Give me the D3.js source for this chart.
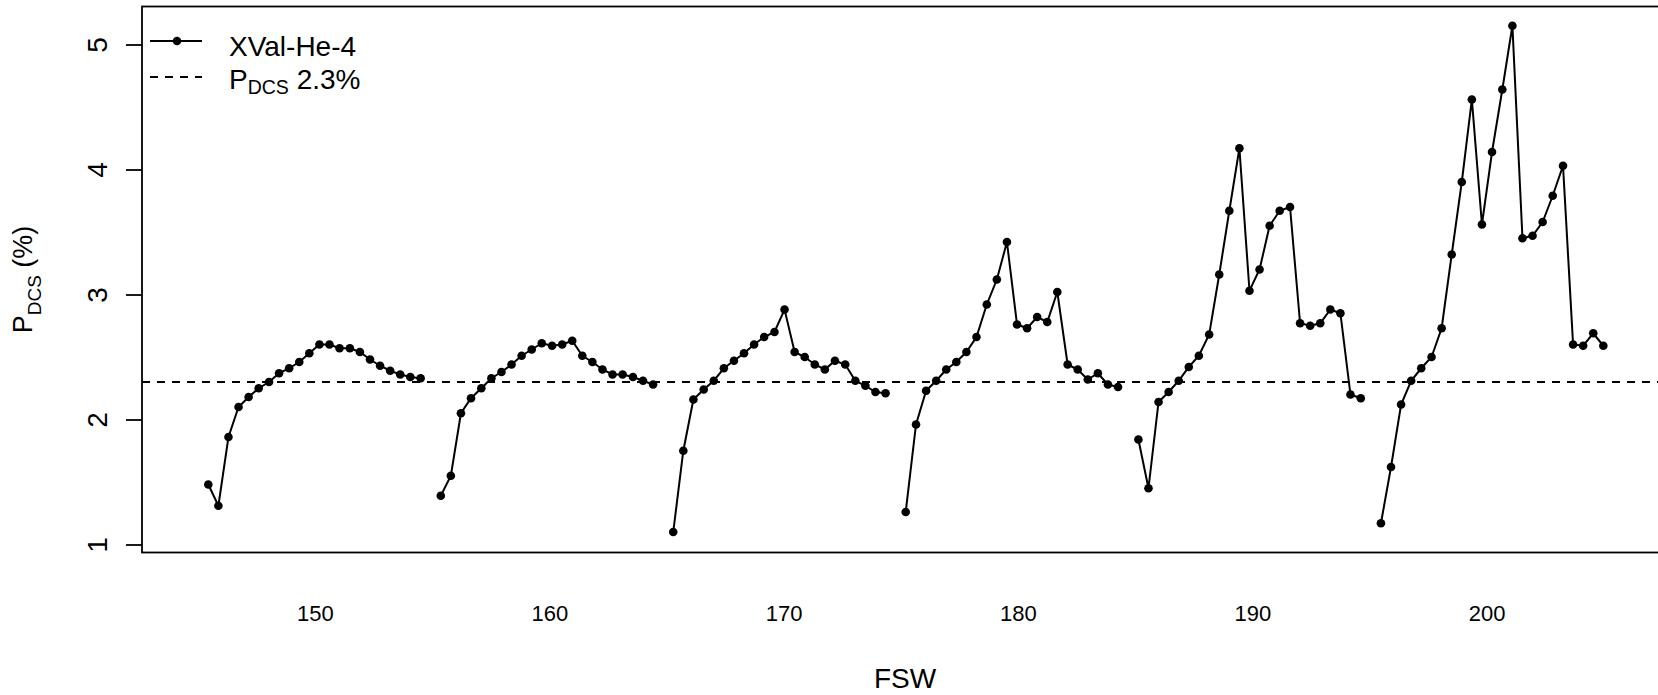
<!DOCTYPE html>
<html>
  <head>
    <meta charset="UTF-8">
    <title>XVal-He-4 PDCS vs FSW</title>
    <script src="https://cdnjs.cloudflare.com/ajax/libs/d3/7.8.5/d3.min.js"></script>
    <style type="text/css">
      body {
        margin: 0px;
        background: #fff;
        overflow: hidden;
      }
      text {
        font-family: "Liberation Sans", Arial, Helvetica, sans-serif;
        fill: #000;
      }
      .series {
        fill: none;
        stroke: #000;
        stroke-width: 2;
      }
      .ref-line {
        stroke: #000;
        stroke-width: 1.8;
        stroke-dasharray: 8,7;
      }
    </style>
  </head>
  <body>
    <div id="chart"></div>
    <script>
      // FSW values (x); null in pdcs marks the breaks between dive groups
      const fsw = [
        145.45, 145.88, 146.31, 146.74, 147.17, 147.60, 148.04, 148.47, 148.90, 149.33, 149.76,
        150.19, 150.62, 151.05, 151.49, 151.92, 152.35, 152.78, 153.21, 153.64, 154.07, 154.51,
        154.94,
        155.37, 155.80, 156.23, 156.66, 157.10, 157.53, 157.96, 158.39, 158.82, 159.25, 159.68,
        160.12, 160.55, 160.98, 161.41, 161.84, 162.27, 162.70, 163.13, 163.57, 164.00, 164.43,
        164.86,
        165.29, 165.72, 166.15, 166.59, 167.02, 167.45, 167.88, 168.31, 168.74, 169.17, 169.61,
        170.04, 170.47, 170.90, 171.33, 171.76, 172.19, 172.63, 173.06, 173.49, 173.92, 174.35,
        174.78,
        175.21, 175.65, 176.08, 176.51, 176.94, 177.37, 177.80, 178.23, 178.67, 179.10, 179.53,
        179.96, 180.39, 180.82, 181.25, 181.68, 182.12, 182.55, 182.98, 183.41, 183.84, 184.27,
        184.70,
        185.14, 185.57, 186.00, 186.43, 186.86, 187.29, 187.72, 188.16, 188.59, 189.02, 189.45,
        189.88, 190.31, 190.74, 191.17, 191.61, 192.04, 192.47, 192.90, 193.33, 193.76, 194.19, 194.63,
        195.06,
        195.49, 195.92, 196.35, 196.78, 197.21, 197.65, 198.08, 198.51, 198.94, 199.37, 199.80,
        200.23, 200.67, 201.10, 201.53, 201.96, 202.39, 202.82, 203.26, 203.69, 204.12, 204.55, 204.98
      ];

      const pdcs = [
        1.48, 1.31, 1.86, 2.10, 2.18, 2.25, 2.30, 2.37, 2.41, 2.46, 2.53,
        2.60, 2.60, 2.57, 2.57, 2.54, 2.48, 2.43, 2.39, 2.36, 2.34, 2.33,
        null,
        1.39, 1.55, 2.05, 2.17, 2.25, 2.33, 2.38, 2.44, 2.51, 2.56, 2.61,
        2.59, 2.60, 2.63, 2.51, 2.46, 2.40, 2.36, 2.36, 2.34, 2.31, 2.28,
        null,
        1.10, 1.75, 2.16, 2.24, 2.31, 2.41, 2.47, 2.53, 2.60, 2.66, 2.70,
        2.88, 2.54, 2.50, 2.44, 2.40, 2.47, 2.44, 2.31, 2.27, 2.22, 2.21,
        null,
        1.26, 1.96, 2.23, 2.31, 2.40, 2.46, 2.54, 2.66, 2.92, 3.12, 3.42,
        2.76, 2.73, 2.82, 2.78, 3.02, 2.44, 2.40, 2.32, 2.37, 2.28, 2.26,
        null,
        1.84, 1.45, 2.14, 2.22, 2.31, 2.42, 2.51, 2.68, 3.16, 3.67, 4.17,
        3.03, 3.20, 3.55, 3.67, 3.70, 2.77, 2.75, 2.77, 2.88, 2.85, 2.20, 2.17,
        null,
        1.17, 1.62, 2.12, 2.31, 2.41, 2.50, 2.73, 3.32, 3.90, 4.56, 3.56,
        4.14, 4.64, 5.15, 3.45, 3.47, 3.58, 3.79, 4.03, 2.60, 2.59, 2.69, 2.59
      ];

      const refLevel = 2.3;
      const xTicks = [150, 160, 170, 180, 190, 200];
      const yTicks = [1, 2, 3, 4, 5];
      const seriesName = "XVal-He-4";

      const width = 1658, height = 695;
      const plot = {left: 142, right: 1668, top: 6.5, bottom: 552.5};

      const svg = d3.select("#chart").append("svg")
        .attr("width", width)
        .attr("height", height);

      svg.append("rect")
        .attr("width", width).attr("height", height)
        .attr("fill", "#fff");

      // axis limits like R's usr
      const x = d3.scaleLinear().domain([142.62, 207.74]).range([plot.left, plot.right]);
      const y = d3.scaleLinear().domain([0.936, 5.304]).range([plot.bottom, plot.top]);

      const points = fsw.map((d, i) => ({x: d, y: pdcs[i]}));

      // reference line
      svg.append("line")
        .attr("class", "ref-line")
        .attr("x1", plot.left).attr("x2", plot.right)
        .attr("y1", y(refLevel)).attr("y2", y(refLevel));

      const line = d3.line()
        .defined(d => d.y !== null)
        .x(d => x(d.x))
        .y(d => y(d.y));

      svg.append("path")
        .datum(points)
        .attr("class", "series")
        .attr("d", line);

      svg.append("g").selectAll("circle")
        .data(points.filter(d => d.y !== null))
        .enter().append("circle")
        .attr("cx", d => x(d.x))
        .attr("cy", d => y(d.y))
        .attr("r", 4.3)
        .attr("fill", "#000");

      // box
      svg.append("rect")
        .attr("x", plot.left).attr("y", plot.top)
        .attr("width", plot.right - plot.left)
        .attr("height", plot.bottom - plot.top)
        .attr("fill", "none")
        .attr("stroke", "#000")
        .attr("stroke-width", 1.8);

      // y axis, rotated labels as in R (las = 0)
      const yAxis = svg.append("g")
        .attr("transform", `translate(${plot.left},0)`)
        .call(d3.axisLeft(y).tickValues(yTicks).tickSize(16).tickFormat(d3.format("d")));
      yAxis.select(".domain").remove();
      yAxis.selectAll(".tick line").attr("stroke", "#000").attr("stroke-width", 1.8);
      yAxis.selectAll(".tick text")
        .attr("transform", "rotate(-90)")
        .attr("x", 0)
        .attr("y", -35.5)
        .attr("dy", null)
        .attr("text-anchor", "middle")
        .attr("font-size", 28)
        .attr("font-family", null);

      // x axis: labels only
      const xAxis = svg.append("g")
        .attr("transform", `translate(0,${plot.bottom})`)
        .call(d3.axisBottom(x).tickValues(xTicks).tickSize(0).tickFormat(d3.format("d")));
      xAxis.select(".domain").remove();
      xAxis.selectAll(".tick text")
        .attr("y", 68)
        .attr("dy", null)
        .attr("font-size", 22)
        .attr("font-family", null);

      // axis titles
      svg.append("text")
        .attr("x", (plot.left + plot.right) / 2)
        .attr("y", 688)
        .attr("text-anchor", "middle")
        .attr("font-size", 28)
        .text("FSW");

      const yTitle = svg.append("text")
        .attr("transform", `translate(32,${(plot.top + plot.bottom) / 2}) rotate(-90)`)
        .attr("text-anchor", "middle")
        .attr("font-size", 27);
      yTitle.append("tspan").text("P");
      yTitle.append("tspan").attr("font-size", 19).attr("dy", 9).text("DCS");
      yTitle.append("tspan").attr("dy", -9).text(" (%)");

      // legend
      const legend = svg.append("g");
      legend.append("line")
        .attr("x1", 150).attr("x2", 202).attr("y1", 41).attr("y2", 41)
        .attr("stroke", "#000").attr("stroke-width", 2);
      legend.append("circle")
        .attr("cx", 177).attr("cy", 41).attr("r", 4.3).attr("fill", "#000");
      legend.append("text")
        .attr("x", 229).attr("y", 56)
        .attr("font-size", 28)
        .text(seriesName);

      legend.append("line")
        .attr("class", "ref-line")
        .attr("x1", 150).attr("x2", 202).attr("y1", 77).attr("y2", 77);
      const legText = legend.append("text")
        .attr("x", 229).attr("y", 89)
        .attr("font-size", 28);
      legText.append("tspan").text("P");
      legText.append("tspan").attr("font-size", 19.5).attr("dy", 5).text("DCS");
      legText.append("tspan").attr("dy", -5).text(" " + refLevel + "%");
    </script>
  </body>
</html>
